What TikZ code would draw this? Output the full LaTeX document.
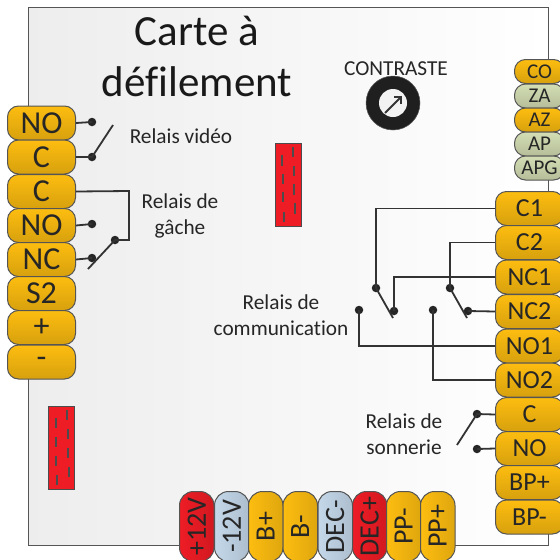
\documentclass[tikz,border=0pt]{standalone}
\usepackage{fontspec}
\setmainfont{Carlito}[Ligatures=NoCommon]
\usetikzlibrary{calc,arrows.meta}
\definecolor{ink}{HTML}{333333}
\definecolor{edge}{HTML}{555555}
\definecolor{amber}{HTML}{FDBD10}
\definecolor{sage}{HTML}{D4DEB4}
\definecolor{sky}{HTML}{C4D8EA}
\definecolor{redp}{HTML}{EE1C25}
\tikzset{
  x=1pt,y=-1pt,
  pillcore/.style={draw=edge,line width=1pt,inner sep=0pt,anchor=north west,text=black!85},
  pill/.style={pillcore,rounded corners=11pt,top color=#1,bottom color=#1!85!black},
  vpill/.style={pillcore,rounded corners=14pt,left color=#1,right color=#1!88!black},
  pillbase/.style={minimum width=68pt,minimum height=34pt,font=\fontsize{32}{32}\selectfont},
  rightpill/.style={minimum width=68pt,minimum height=34pt,font=\fontsize{26}{26}\selectfont},
  smallpill/.style={minimum width=50pt,minimum height=24pt,font=\fontsize{21}{21}\selectfont,rounded corners=11pt},
  botpill/.style={minimum width=34.5pt,minimum height=70pt,font=\fontsize{28}{28}\selectfont},
  wire/.style={draw=ink,line width=1.8pt},
  dot/.style={circle,fill=black!85,inner sep=0pt,minimum size=8.5pt},
  label/.style={font=\fontsize{21.3}{26}\selectfont,text=black!85,align=center},
  chip/.style={draw=black!70,line width=1pt,fill=redp},
  pin/.style={draw=black!70,line width=2pt},
}
\begin{document}
\begin{tikzpicture}
\useasboundingbox (0,0) rectangle (560,560);
\shade[left color=black!7,right color=white] (28,7) rectangle (548,545);
\draw[edge,line width=1pt] (28,7) rectangle (548,545);
\node[font=\fontsize{43}{43}\selectfont,text=black!90] (t1) at (197,30.5) {Carte à};
\node[font=\fontsize{43}{43}\selectfont,text=black!90] (t2) at (197,82) {défilement};
\node[label] (lcon) at (396,69) {CONTRASTE};
\node[label] (lv) at (181,136) {Relais vidéo};
\node[label] (lg) at (180,216) {Relais de\\gâche};
\node[label] (lc) at (281,315) {Relais de\\communication};
\node[label] (ls) at (404,434) {Relais de\\sonnerie};
% knob
\node[circle,fill=black!88,draw=edge,line width=0.5pt,minimum size=54pt,inner sep=0pt] (knob) at (393,103) {};
\node[circle,fill=black!5,minimum size=28pt,inner sep=0pt] (knobin) at (393,103) {};
\coordinate (ka) at (385,113);
\coordinate (kb) at (402,96);
\draw[ink,line width=1.8pt,-{Straight Barb[length=5pt,width=10pt]}] (ka) -- (kb);
% chips
\draw[chip] (275,143) rectangle (301,226);
\foreach \x/\a/\b in {282/155/166,283/174/184,283/192/202,284/212/222,293/147/157,294/166/176,294/184/195,295/203/214}
  \draw[pin] (\x,\a) -- (\x,\b);
\draw[chip] (48,406) rectangle (74,489);
\foreach \x/\a/\b in {56/418/428,56/437/447,56/456/466,57/475/485,67/410/420,68/429/439,68/448/458,69/467/477}
  \draw[pin] (\x,\a) -- (\x,\b);
% left pills
\foreach \n/\t/\y in {l1/NO/105.5,l2/C/139.5,l3/C/174,l4/NO/208,l5/NC/242,l6/S2/276,l7/+/310,l8/-/344.5}
  \node[pill=amber,pillbase] (\n) at (7,\y) {\t};
% right pills
\foreach \n/\t/\y in {r1/C1/191,r2/C2/225,r3/NC1/259.5,r4/NC2/294,r5/NO1/328.5,r6/NO2/362.5,r7/C/397,r8/NO/431,r9/BP+/465,r10/BP-/499.5}
  \node[pill=amber,rightpill] (\n) at (495,\y) {\t};
% top right pills
\node[pill=amber,smallpill] (c1) at (514,59) {CO};
\node[pill=sage,smallpill] (c2) at (514,83.5) {ZA};
\node[pill=amber,smallpill] (c3) at (514,107.5) {AZ};
\node[pill=sage,smallpill] (c4) at (514,131.5) {AP};
\node[pill=sage,smallpill] (c5) at (514,155.5) {APG};
% bottom pills
\foreach \n/\t/\x/\c in {b1/+12V/179/redp,b2/-12V/214/sky,b3/B+/248/amber,b4/B-/282.5/amber,b5/DEC-/317.5/sky,b6/DEC+/352/redp,b7/PP-/386/amber,b8/PP+/420/amber}
  \node[vpill=\c,botpill] (\n) at (\x,491) {\rotatebox{90}{\t}};
% dots
\node[dot] (d1) at (92,122) {};
\node[dot] (d2) at (92,157) {};
\node[dot] (d3) at (92,224) {};
\node[dot] (d4) at (92,258) {};
\node[dot] (d5) at (115,240) {};
\node[dot] (d6) at (376,288) {};
\node[dot] (d7) at (394,311) {};
\node[dot] (d8) at (359,310) {};
\node[dot] (d9) at (450,288) {};
\node[dot] (d10) at (468,311) {};
\node[dot] (d11) at (433,310) {};
\node[dot] (d12) at (477,414) {};
\node[dot] (d13) at (477,449) {};
\coordinate (sw1) at (113,125);
\coordinate (sw2) at (88,269);
\coordinate (sw3) at (393,318);
\coordinate (sw4) at (467,318);
\coordinate (sw5) at (457,445);
\coordinate (g1) at (129,191);
\coordinate (g2) at (129,240);
% wires left
\draw[wire] (l1.east) -- (d1.center);
\draw[wire] (l2.east) -- (d2.center) -- (sw1);
\draw[wire] (l3.east) -- (g1) -- (g2) -- (d5.center);
\draw[wire] (l4.east) -- (d3.center);
\draw[wire] (l5.east) -- (d4.center);
\draw[wire] (sw2) -- (d5.center);
% wires right
\draw[wire] (r1.west) -| (d6.center);
\draw[wire] (d6.center) -- (sw3);
\draw[wire] (r2.west) -| (d9.center);
\draw[wire] (d9.center) -- (sw4);
\draw[wire] (r3.west) -| (d7.center);
\draw[wire] (r4.west) -- (d10.center);
\draw[wire] (r5.west) -| (d8.center);
\draw[wire] (r6.west) -| (d11.center);
\draw[wire] (r7.west) -- (d12.center) -- (sw5);
\draw[wire] (r8.west) -- (d13.center);
\end{tikzpicture}
\end{document}
